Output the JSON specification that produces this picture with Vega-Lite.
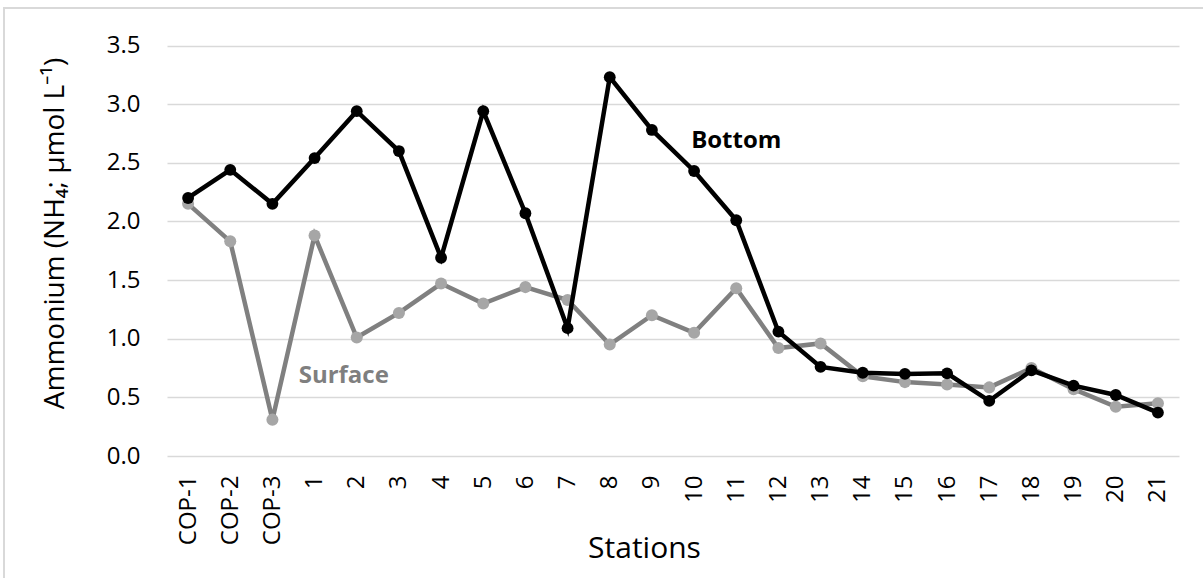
{
  "$schema": "https://vega.github.io/schema/vega-lite/v6.json",
  "autosize": "none",
  "width": 1209,
  "height": 580,
  "padding": {"left": 4, "top": 8, "right": 0, "bottom": 0},
  "background": "white",
  "config": {
    "view": {"stroke": "#d9d9d9", "strokeWidth": 2},
    "font": "Open Sans",
    "axis": {
      "labelFont": "Open Sans",
      "titleFont": "Open Sans",
      "labelColor": "#000000",
      "titleColor": "#000000",
      "titleFontWeight": "normal",
      "gridColor": "#d9d9d9",
      "gridWidth": 1.5,
      "domain": false,
      "ticks": false
    }
  },
  "datasets": {
    "surface": [
      {"station": "COP-1", "value": 2.15},
      {"station": "COP-2", "value": 1.83},
      {"station": "COP-3", "value": 0.31},
      {"station": "1", "value": 1.88},
      {"station": "2", "value": 1.01},
      {"station": "3", "value": 1.22},
      {"station": "4", "value": 1.47},
      {"station": "5", "value": 1.30},
      {"station": "6", "value": 1.44},
      {"station": "7", "value": 1.33},
      {"station": "8", "value": 0.95},
      {"station": "9", "value": 1.20},
      {"station": "10", "value": 1.05},
      {"station": "11", "value": 1.43},
      {"station": "12", "value": 0.92},
      {"station": "13", "value": 0.96},
      {"station": "14", "value": 0.68},
      {"station": "15", "value": 0.63},
      {"station": "16", "value": 0.61},
      {"station": "17", "value": 0.585},
      {"station": "18", "value": 0.75},
      {"station": "19", "value": 0.57},
      {"station": "20", "value": 0.42},
      {"station": "21", "value": 0.45}
    ],
    "bottom": [
      {"station": "COP-1", "value": 2.20},
      {"station": "COP-2", "value": 2.44},
      {"station": "COP-3", "value": 2.15},
      {"station": "1", "value": 2.54},
      {"station": "2", "value": 2.94},
      {"station": "3", "value": 2.60},
      {"station": "4", "value": 1.69},
      {"station": "5", "value": 2.94},
      {"station": "6", "value": 2.07},
      {"station": "7", "value": 1.09},
      {"station": "8", "value": 3.23},
      {"station": "9", "value": 2.78},
      {"station": "10", "value": 2.43},
      {"station": "11", "value": 2.01},
      {"station": "12", "value": 1.06},
      {"station": "13", "value": 0.76},
      {"station": "14", "value": 0.71},
      {"station": "15", "value": 0.70},
      {"station": "16", "value": 0.705},
      {"station": "17", "value": 0.47},
      {"station": "18", "value": 0.73},
      {"station": "19", "value": 0.60},
      {"station": "20", "value": 0.52},
      {"station": "21", "value": 0.37}
    ],
    "labels": [
      {"station": "2", "value": 0.625, "label": "Surface"},
      {"station": "11", "value": 2.63, "label": "Bottom"}
    ]
  },
  "encoding": {
    "x": {
      "field": "station",
      "type": "ordinal",
      "scale": {
        "type": "point",
        "padding": 0.5,
        "range": [163, 1175],
        "domain": ["COP-1", "COP-2", "COP-3", "1", "2", "3", "4", "5", "6", "7", "8", "9", "10", "11", "12", "13", "14", "15", "16", "17", "18", "19", "20", "21"]
      },
      "axis": {
        "title": "Stations",
        "offset": -132,
        "labelAngle": -90,
        "labelFontSize": 24,
        "labelPadding": 19,
        "grid": false,
        "titleFontSize": 30,
        "titleX": 640,
        "titleY": 101,
        "titleBaseline": "alphabetic",
        "titleAlign": "center"
      }
    },
    "y": {
      "field": "value",
      "type": "quantitative",
      "scale": {"domain": [0, 3.5], "nice": false, "zero": true, "range": [448, 37.5]},
      "axis": {
        "title": "Ammonium (NH₄; µmol L⁻¹)",
        "offset": -163,
        "values": [0, 0.5, 1, 1.5, 2, 2.5, 3, 3.5],
        "format": ".1f",
        "labelFontSize": 24,
        "labelPadding": 27,
        "titleFontSize": 28,
        "titleAngle": -90,
        "titleX": -104,
        "titleY": 225,
        "titleBaseline": "alphabetic",
        "titleAlign": "center"
      }
    }
  },
  "layer": [
    {
      "data": {"name": "surface"},
      "mark": {"type": "line", "color": "#808080", "strokeWidth": 4.5}
    },
    {
      "data": {"name": "surface"},
      "mark": {"type": "point", "filled": true, "opacity": 1, "color": "#a6a6a6", "size": 145}
    },
    {
      "data": {"name": "bottom"},
      "mark": {"type": "line", "color": "#000000", "strokeWidth": 4.5}
    },
    {
      "data": {"name": "bottom"},
      "mark": {"type": "point", "filled": true, "opacity": 1, "color": "#000000", "size": 140}
    },
    {
      "data": {"name": "labels"},
      "transform": [{"filter": "datum.label === 'Surface'"}],
      "mark": {"type": "text", "font": "Open Sans", "fontSize": 24, "fontWeight": "bold", "color": "#7f7f7f", "align": "center", "baseline": "alphabetic", "dx": -13},
      "encoding": {"text": {"field": "label"}}
    },
    {
      "data": {"name": "labels"},
      "transform": [{"filter": "datum.label === 'Bottom'"}],
      "mark": {"type": "text", "font": "Open Sans", "fontSize": 24, "fontWeight": "bold", "color": "#000000", "align": "center", "baseline": "alphabetic"},
      "encoding": {"text": {"field": "label"}}
    }
  ]
}
